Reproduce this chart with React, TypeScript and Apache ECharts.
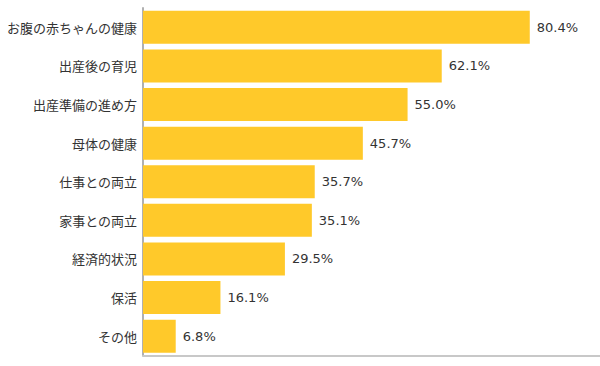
import React, { useEffect, useRef } from "react";
import * as echarts from "echarts";

const categories = [
  "お腹の赤ちゃんの健康",
  "出産後の育児",
  "出産準備の進め方",
  "母体の健康",
  "仕事との両立",
  "家事との両立",
  "経済的状況",
  "保活",
  "その他",
];
const values = [80.4, 62.1, 55.0, 45.7, 35.7, 35.1, 29.5, 16.1, 6.8];

export default function App() {
  const ref = useRef<HTMLDivElement>(null);
  useEffect(() => {
    if (!ref.current) return;
    const chart = echarts.init(ref.current, null, { renderer: "svg" });
    chart.setOption({
      animation: false,
      grid: { left: 143, width: 459, top: 8, bottom: 10.5, containLabel: false },
      xAxis: {
        type: "value",
        min: 0,
        max: 95,
        show: true,
        axisLine: { show: true, lineStyle: { color: "#c8c8c8", width: 2 } },
        axisTick: { show: false },
        axisLabel: { show: false },
        splitLine: { show: false },
      },
      yAxis: {
        type: "category",
        inverse: true,
        data: categories,
        axisLine: { show: true, lineStyle: { color: "#b0b0b0", width: 2 } },
        axisTick: { show: false },
        axisLabel: {
          margin: 6,
          color: "#333",
          fontSize: 13,
          fontFamily: "Noto Sans CJK JP",
        },
      },
      series: [
        {
          type: "bar",
          data: values,
          barWidth: 33,
          itemStyle: { color: "#FFC92A" },
          label: {
            show: true,
            position: "right",
            distance: 7,
            color: "#333",
            fontSize: 13,
            fontFamily: "DejaVu Sans",
            formatter: (p: any) => p.value.toFixed(1) + "%",
          },
        },
      ],
    });
    return () => chart.dispose();
  }, []);
  return <div ref={ref} style={{ width: 600, height: 366, position: "absolute", left: 0, top: 0 }} />;
}
